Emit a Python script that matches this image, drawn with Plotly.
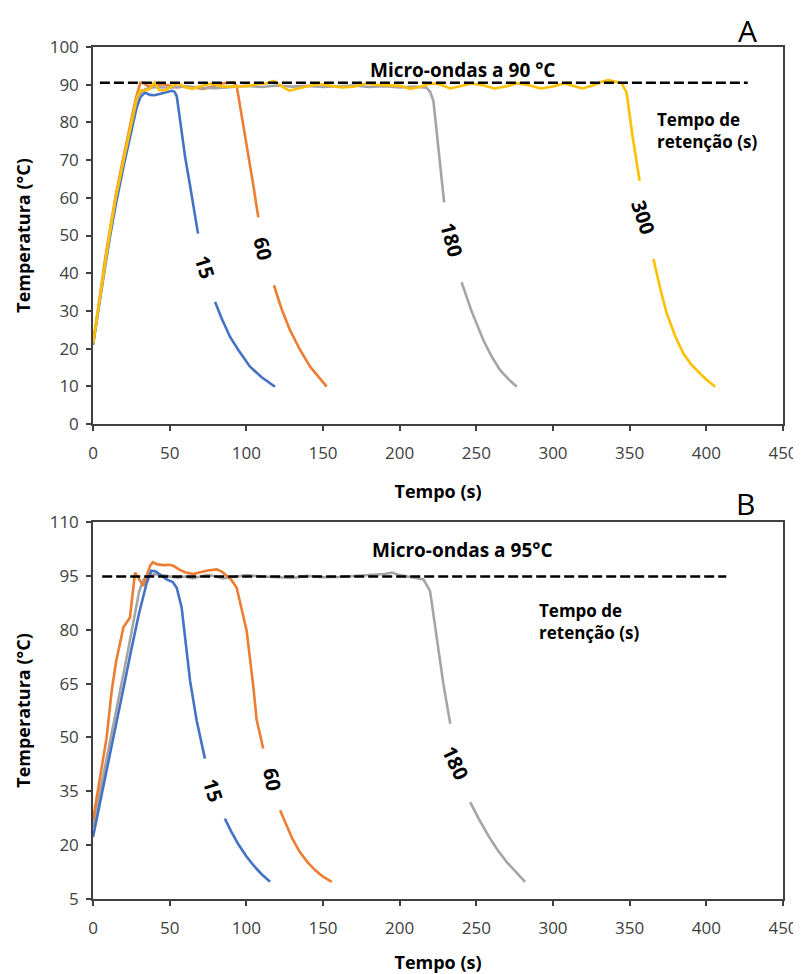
import plotly.graph_objects as go

# ---------------- Panel A (micro-ondas a 90 °C) ----------------
a15_t = [0, 4, 8, 11, 15, 20, 25, 28.5, 31, 34, 37, 40, 44, 48, 51.3, 53, 54.6, 57, 60, 63.3, 66, 68.5, None,
         79.6, 84, 89.4, 95, 102.4, 110, 118.7]
a15_T = [21, 32, 42, 49.5, 58.5, 68.5, 78, 84, 86.8, 87.9, 87.3, 87.2, 87.6, 88.1, 88.4, 88.2, 87, 80, 71, 63.2, 56, 50.5, None,
         32.4, 27.9, 23.1, 19.5, 15.2, 12.4, 9.9]

a60_t = [0, 4, 8, 11, 15, 20, 25, 28, 31, 33, 36, 40, 45, 50, 55, 60, 65, 72, 78, 84, 88, 91.5, 93.7, 97, 101, 104.6, 107.8, None,
         118, 123, 128.5, 135, 141.6, 147, 152.4]
a60_T = [21, 33, 44, 51.5, 61, 71, 80.5, 86.5, 90.6, 90.4, 89.6, 89.8, 90.1, 89.7, 89.3, 89.6, 89.3, 88.9, 89.5, 90.3, 90.5, 90.6, 89.7, 82, 72, 63.2, 54.8, None,
         36.8, 30.5, 24.9, 19.7, 15.2, 12.4, 9.9]

a180_t = [0, 4, 8, 11, 15, 20, 25, 28.5, 31, 34, 40, 50, 60, 70, 80, 90, 100, 110, 120, 130, 140, 150, 160, 170, 180, 190, 200, 210,
          217.6, 220, 222, 225.5, 229, None, 240.4, 247, 254.6, 260, 265.5, 271, 276.4]
a180_T = [21, 32.3, 42.8, 50.5, 60.2, 70.2, 79.6, 86, 87.8, 88.8, 89.4, 89.2, 89.6, 89.2, 89.1, 89.5, 89.7, 89.4, 89.8, 89.5, 89.7, 89.4, 89.6, 89.8, 89.4, 89.6, 89.3, 89.5,
          89.2, 88, 85.7, 72, 58.8, None, 37.6, 29.8, 22.2, 17.9, 14.3, 11.9, 9.9]

a300_t = [0, 4, 8, 11, 15, 20, 25, 28.5, 31, 34, 37, 40, 43, 47, 52, 56, 60, 65, 70, 77, 85, 92, 100, 107, 113, 118, 122, 128,
          134, 140, 147, 155, 162, 170, 178, 185, 192, 200, 207, 214, 220, 226, 233, 240, 247, 255, 262, 270, 277, 285, 292,
          300, 307, 313, 319, 326, 332, 336, 340, 344.8, 348, 352, 356.5, None,
          365.5, 370, 374.2, 380, 385, 390, 395.9, 400, 405.8]
a300_T = [21.4, 32.5, 43, 51, 60.5, 70.5, 80, 86.5, 88.5, 88.5, 88.9, 90.6, 88.6, 88.5, 89.7, 90.4, 89.3, 88.9, 89.6, 90.3, 89.5, 89.5, 89.6, 90.1, 90.3, 91.0, 89.8, 88.4,
          88.9, 89.6, 90.2, 89.7, 89.3, 89.5, 90.3, 90.0, 89.9, 89.7, 88.9, 89.5, 90.3, 90.1, 89.0, 89.6, 90.3, 89.8, 89.0, 89.6, 90.4, 89.8, 89.0,
          89.5, 90.3, 89.7, 89.0, 89.8, 90.8, 91.2, 90.8, 90.4, 87.9, 76, 64.5, None,
          43.8, 35.8, 29.3, 23.0, 18.7, 15.9, 13.4, 11.8, 9.9]

a_set_t = [4.5, 427]
a_set_T = [90.5, 90.5]

# ---------------- Panel B (micro-ondas a 95 °C) ----------------
b15_t = [0, 5, 10, 15, 20, 25, 30, 35, 38, 41, 45, 48, 52, 54.6, 57.8, 63.3, 67.6, 73, None,
         86, 90, 95, 100, 105, 110, 115.5]
b15_T = [22.3, 32.5, 43, 53.5, 64, 74.5, 84.5, 93, 96.4, 96.2, 95, 94, 93.3, 91.7, 86.2, 65.8, 54.7, 44.1, None,
         27.4, 23.9, 20.1, 16.9, 14.2, 11.9, 9.8]

b60_t = [0, 3, 6, 8.9, 12.2, 15, 19.8, 24.1, 27.4, 30, 32.8, 35, 37.2, 39, 42, 46, 50, 52.4, 56, 60, 65.4, 70, 75, 80.7, 84,
         87.2, 90, 93.7, 97, 100.2, 104.6, 106.7, 111, None,
         122, 126, 130, 135, 140, 145, 150, 155.7]
b60_T = [27, 35, 43, 50, 63, 71, 80.6, 83.4, 95.9, 94, 92.2, 95, 97.8, 98.8, 98.2, 98.0, 98.1, 97.8, 96.8, 96.0, 95.5, 96.0, 96.5, 96.8, 96.2,
         95, 94, 91.7, 86, 79.7, 64, 55, 46.9, None,
         29.7, 25.5, 21.8, 18.0, 15.2, 13.0, 11.2, 9.8]

b180_t = [0, 5, 10, 15, 20, 25, 30, 33, 36, 40, 45, 50, 55, 60, 65, 70, 75, 80, 85, 90, 100, 110, 120, 130, 140, 150, 160, 170,
          180, 190, 195, 200, 205, 210, 215.5, 219.8, 224, 228.5, 233, None,
          246, 252, 258, 264, 270, 276, 281.8]
b180_T = [25, 35.5, 46, 57, 68, 79, 90.5, 94, 94.8, 95.5, 95.2, 94.8, 94.5, 94.8, 94.3, 94.8, 95.3, 94.8, 94.3, 94.6, 95.2, 94.8, 94.7, 94.4, 95.0, 94.6, 94.7, 94.9,
          95.1, 95.5, 95.9, 95.2, 94.8, 94.5, 94.0, 90.8, 78, 64.9, 53.8, None,
          32, 27, 22.5, 18.6, 15.2, 12.3, 9.8]

b_set_t = [6, 413]
b_set_T = [94.8, 94.8]

# retention-time labels
labels_a = ["15", "60", "180", "300"]
labels_b = ["15", "60", "180"]

x_ticks = [0, 50, 100, 150, 200, 250, 300, 350, 400, 450]
ya_ticks = [0, 10, 20, 30, 40, 50, 60, 70, 80, 90, 100]
yb_ticks = [5, 20, 35, 50, 65, 80, 95, 110]

BLUE, ORANGE, GRAY, YELLOW = "#4472C4", "#ED7D31", "#A5A5A5", "#FFC000"
FONT = "Open Sans"
AX = "#404040"

fig = go.Figure()


def line(t, T, color, xa, ya, width=2.6, dash=None):
    fig.add_trace(go.Scatter(x=t, y=T, mode="lines", xaxis=xa, yaxis=ya,
                             line=dict(color=color, width=width, dash=dash),
                             connectgaps=False, hoverinfo="skip", showlegend=False))


line(a15_t, a15_T, BLUE, "x", "y")
line(a60_t, a60_T, ORANGE, "x", "y")
line(a180_t, a180_T, GRAY, "x", "y")
line(a300_t, a300_T, YELLOW, "x", "y")
line(a_set_t, a_set_T, "black", "x", "y", width=2.4, dash="10px,4px")

line(b180_t, b180_T, GRAY, "x2", "y2")
line(b60_t, b60_T, ORANGE, "x2", "y2")
line(b15_t, b15_T, BLUE, "x2", "y2")
line(b_set_t, b_set_T, "black", "x2", "y2", width=2.4, dash="10px,4px")

tickfont = dict(family=FONT, size=17, color=AX)
titlefont = dict(family=FONT, size=18, color="black", weight="bold")


def xax(anchor):
    return dict(anchor=anchor, domain=[0, 1], range=[0, 450], tickvals=x_ticks,
                ticks="outside", ticklen=5, tickwidth=1.5, tickcolor=AX,
                showline=True, linecolor=AX, linewidth=1.5, mirror=True,
                showgrid=False, zeroline=False, tickfont=tickfont, ticklabelstandoff=8,
                ticklabeloverflow="allow",
                title=dict(text="<b>Tempo (s)</b>", font=titlefont, standoff=22))


def yax(anchor, dom, rng, vals):
    return dict(anchor=anchor, domain=dom, range=rng, tickvals=vals,
                ticks="outside", ticklen=5, tickwidth=1.5, tickcolor=AX,
                showline=True, linecolor=AX, linewidth=1.5, mirror=True,
                showgrid=False, zeroline=False, tickfont=tickfont, ticklabelstandoff=4,
                title=dict(text="<b>Temperatura (°C)</b>", font=titlefont, standoff=14))


annotations = []
lab_font = dict(family=FONT, size=20, color="black", weight="bold")
for txt, (x, y, ang) in zip(labels_a, [(73, 41.5, 72), (111, 46.6, 78), (234, 49, 75), (359, 54.8, 72)]):
    annotations.append(dict(x=x, y=y, xref="x", yref="y", text=txt, textangle=ang,
                            showarrow=False, font=lab_font))
for txt, (x, y, ang) in zip(labels_b, [(78.5, 35.3, 72), (117, 38.3, 80), (236.5, 43.1, 65)]):
    annotations.append(dict(x=x, y=y, xref="x2", yref="y2", text=txt, textangle=ang,
                            showarrow=False, font=lab_font))

bold19 = dict(family=FONT, size=19, color="black", weight="bold")
bold17 = dict(family=FONT, size=17, color="black", weight="bold")
annotations += [
    dict(x=241, y=93.8, xref="x", yref="y", text="Micro-ondas a 90 °C", showarrow=False, font=bold19),
    dict(x=241, y=102.2, xref="x2", yref="y2", text="Micro-ondas a 95°C", showarrow=False, font=bold19),
    dict(x=366.5, y=77.8, xref="x", yref="y", text="Tempo de<br>retenção (s)", showarrow=False,
         xanchor="left", yanchor="middle", align="left", font=bold17),
    dict(x=289.6, y=82.2, xref="x2", yref="y2", text="Tempo de<br>retenção (s)", showarrow=False,
         xanchor="left", yanchor="middle", align="left", font=bold17),
    dict(x=0.948, y=1.045, xref="x domain", yref="y domain", text="A", showarrow=False,
         xanchor="center", yanchor="middle", font=dict(family=FONT, size=30, color="black")),
    dict(x=0.946, y=1.050, xref="x2 domain", yref="y2 domain", text="B", showarrow=False,
         xanchor="center", yanchor="middle", font=dict(family=FONT, size=30, color="black")),
]

# page body has an 8px default margin, so the figure starts at (8, 8)
fig.update_layout(
    width=793, height=966,
    margin=dict(l=85, r=18, t=39, b=75, autoexpand=False),
    paper_bgcolor="white", plot_bgcolor="white",
    font=dict(family=FONT, color=AX),
    showlegend=False,
    xaxis=xax("y"),
    yaxis=yax("x", [0.5575, 1], [0, 100], ya_ticks),
    xaxis2=xax("y2"),
    yaxis2=yax("x2", [0, 0.4425], [5, 110], yb_ticks),
    annotations=annotations,
)

fig.write_html("out.html")
